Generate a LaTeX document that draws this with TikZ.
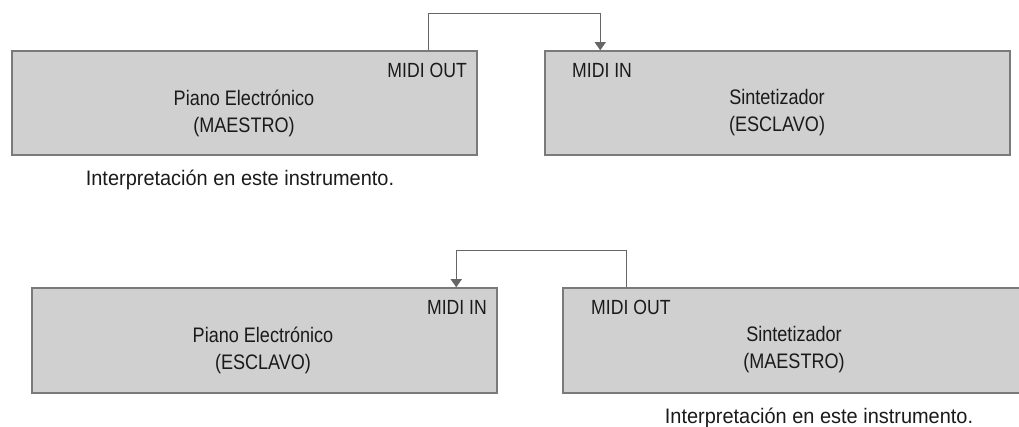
\documentclass[tikz,border=0pt]{standalone}
\usepackage{fontspec}
\setmainfont{Liberation Sans}[FakeStretch=0.86]
\newfontfamily\notefont{Liberation Sans}[FakeStretch=0.95]
\usetikzlibrary{calc,arrows.meta}
\definecolor{boxfill}{HTML}{D0D0D0}
\definecolor{boxline}{HTML}{7A7A7A}
\definecolor{wire}{HTML}{666666}
\definecolor{ink}{HTML}{1A1A1A}
\begin{document}
\begin{tikzpicture}[x=1pt,y=-1pt,
  unit/.style={draw=boxline,line width=1.5pt,fill=boxfill,rectangle,
    minimum width=465pt,minimum height=104pt,inner sep=0pt},
  lbl/.style={font=\fontsize{20.5}{22}\selectfont,text=ink,inner sep=0pt},
  note/.style={lbl,font=\notefont\fontsize{21}{22}\selectfont},
  title/.style={lbl,align=center,font=\fontsize{21}{27}\selectfont},
  wireline/.style={draw=wire,line width=1.1pt},
  tip/.style={-{Triangle[length=8pt,width=11pt]}}]
\useasboundingbox (0,0) rectangle (1019,427);
% top row
\node[unit] (tl) at (244.5,103) {};
\node[unit] (tr) at (777.5,103) {};
\node[lbl,anchor=east] (tlport) at (467,70) {MIDI OUT};
\node[lbl,anchor=west] (trport) at (572,70) {MIDI IN};
\node[title] (tltext) at (244,113) {Piano Electrónico\\(MAESTRO)};
\node[title] (trtext) at (777,113) {Sintetizador\\(ESCLAVO)};
\node[note] (tlnote) at (240,180) {Interpretación en este instrumento.};
\coordinate (tout) at ($(tl.north west)+(417,0)$);
\coordinate (tin) at ($(tr.north west)+(56,0)$);
\draw[wireline,tip] (tout) -- ++(0,-37) -| (tin);
% bottom row
\node[unit,minimum height=105pt] (bl) at (264.5,340.5) {};
\node[unit,minimum height=105pt] (br) at (795.5,340.5) {};
\node[lbl,anchor=east] (blport) at (487,307) {MIDI IN};
\node[lbl,anchor=west] (brport) at (591,307) {MIDI OUT};
\node[title] (bltext) at (263,350) {Piano Electrónico\\(ESCLAVO)};
\node[title] (brtext) at (794,350) {Sintetizador\\(MAESTRO)};
\node[note] (brnote) at (819,418) {Interpretación en este instrumento.};
\coordinate (bout) at ($(br.north west)+(64,0)$);
\coordinate (bin) at ($(bl.north west)+(425,0)$);
\draw[wireline,tip] (bout) -- ++(0,-37) -| (bin);
\end{tikzpicture}
\end{document}
